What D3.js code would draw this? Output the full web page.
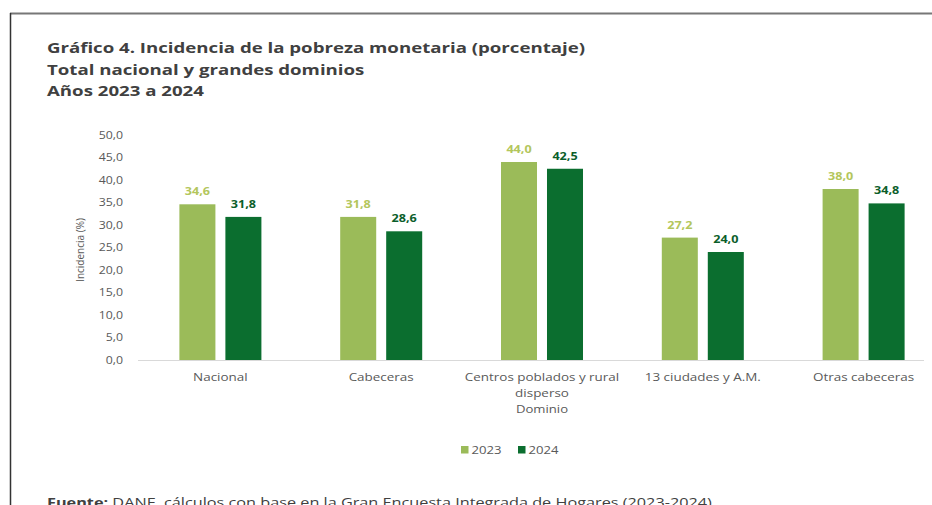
<!DOCTYPE html>
<html>
<head>
<meta charset="utf-8">
<script src="https://cdn.jsdelivr.net/npm/d3@7"></script>
<style>
  body { margin: 0; background: #fff; }
  svg { display: block; font-family: "Open Sans", "Liberation Sans", sans-serif; }
</style>
</head>
<body>
<div id="chart"></div>
<script>
// data
const categories = ["Nacional", "Cabeceras", "Centros poblados y rural disperso", "13 ciudades y A.M.", "Otras cabeceras"];
const years = ["2023", "2024"];
const values2023 = [34.6, 31.8, 44.0, 27.2, 38.0];
const values2024 = [31.8, 28.6, 42.5, 24.0, 34.8];
const yTicks = [0, 5, 10, 15, 20, 25, 30, 35, 40, 45, 50];

const titleLines = [
  "Gráfico 4. Incidencia de la pobreza monetaria (porcentaje)",
  "Total nacional y grandes dominios",
  "Años 2023 a 2024"
];

const colors = { "2023": "#9bbb59", "2024": "#0b6e2f" };
const labelColors = { "2023": "#b3c65c", "2024": "#0b5e2a" };

const width = 932, height = 505;

// the reference text is drawn a bit wider than the font, so stretch it sideways
function stretch(sel, k) {
  sel.each(function() {
    const n = this.getComputedTextLength();
    d3.select(this)
      .attr("textLength", n * k)
      .attr("lengthAdjust", "spacingAndGlyphs");
  });
}

const svg = d3.select("#chart").append("svg")
  .attr("width", width)
  .attr("height", height);

// frame of the page
svg.append("line")
  .attr("x1", 10).attr("x2", width)
  .attr("y1", 13.5).attr("y2", 13.5)
  .attr("stroke", "#777").attr("stroke-width", 2);
svg.append("line")
  .attr("x1", 10.5).attr("x2", 10.5)
  .attr("y1", 13).attr("y2", height)
  .attr("stroke", "#333").attr("stroke-width", 1.5);

// title
const titles = svg.selectAll(".title")
  .data(titleLines)
  .enter().append("text")
  .attr("class", "title")
  .attr("x", 47)
  .attr("y", function(d, i) { return 53 + i * 21.5; })
  .attr("fill", "#404040")
  .attr("font-size", 14.5)
  .attr("font-weight", "bold")
  .text(function(d) { return d; });
const titleK = 538 / titles.node().getComputedTextLength();
stretch(titles, titleK);

// scales
const x0 = d3.scaleBand()
  .domain(categories)
  .range([140, 944])
  .paddingInner(0.49)
  .paddingOuter(0.245);

const x1 = d3.scaleBand()
  .domain(years)
  .range([0, x0.bandwidth()])
  .paddingInner(0.217);

const y = d3.scaleLinear()
  .domain([0, 50])
  .range([360, 135]);

// y axis (labels only)
const yAxis = svg.append("g")
  .attr("transform", "translate(126,0)")
  .call(d3.axisLeft(y).tickValues(yTicks).tickSize(0)
    .tickFormat(function(d) { return d3.format(".1f")(d).replace(".", ","); }));
yAxis.select(".domain").remove();
yAxis.selectAll("text")
  .attr("fill", "#595959")
  .attr("font-size", 10.5)
  .attr("font-family", "'Open Sans', sans-serif");
stretch(yAxis.selectAll("text"), 1.17);

const yTitle = svg.append("text")
  .attr("transform", "translate(84,250) rotate(-90)")
  .attr("text-anchor", "middle")
  .attr("fill", "#595959")
  .attr("font-size", 10)
  .text("Incidencia (%)");

// baseline
svg.append("line")
  .attr("x1", 138).attr("x2", 924)
  .attr("y1", y(0) + 0.5).attr("y2", y(0) + 0.5)
  .attr("stroke", "#d9d9d9").attr("stroke-width", 1);

// bars
const rows = categories.map(function(c, i) {
  return { cat: c, vals: [
    { year: "2023", value: values2023[i] },
    { year: "2024", value: values2024[i] }
  ] };
});

const groups = svg.selectAll(".group")
  .data(rows)
  .enter().append("g")
  .attr("class", "group")
  .attr("transform", function(d) { return "translate(" + x0(d.cat) + ",0)"; });

groups.selectAll("rect")
  .data(function(d) { return d.vals; })
  .enter().append("rect")
  .attr("x", function(d) { return x1(d.year); })
  .attr("width", x1.bandwidth())
  .attr("y", function(d) { return y(d.value); })
  .attr("height", function(d) { return y(0) - y(d.value); })
  .attr("fill", function(d) { return colors[d.year]; });

const vals = groups.selectAll(".val")
  .data(function(d) { return d.vals; })
  .enter().append("text")
  .attr("class", "val")
  .attr("x", function(d) { return x1(d.year) + x1.bandwidth() / 2; })
  .attr("y", function(d) { return y(d.value) - 9; })
  .attr("text-anchor", "middle")
  .attr("font-size", 10.5)
  .attr("font-weight", "bold")
  .attr("fill", function(d) { return labelColors[d.year]; })
  .text(function(d) { return d3.format(".1f")(d.value).replace(".", ","); });
stretch(vals, 1.2);

// category labels, wrapped where the original wraps
const catLines = {
  "Centros poblados y rural disperso": ["Centros poblados y rural", "disperso"]
};
categories.forEach(function(c) {
  const lines = catLines[c] || [c];
  const t = svg.selectAll(null)
    .data(lines)
    .enter().append("text")
    .attr("class", "cat")
    .attr("x", x0(c) + x0.bandwidth() / 2)
    .attr("y", function(d, i) { return 381 + i * 15.5; })
    .attr("text-anchor", "middle")
    .attr("font-size", 10.5)
    .attr("fill", "#595959")
    .text(function(d) { return d; });
  stretch(t, 1.28);
});

const dom = svg.append("text")
  .attr("x", x0(categories[2]) + x0.bandwidth() / 2)
  .attr("y", 413)
  .attr("text-anchor", "middle")
  .attr("font-size", 10.5)
  .attr("fill", "#595959")
  .text("Dominio");
stretch(dom, 1.25);

// legend
const legend = svg.selectAll(".legend")
  .data(years)
  .enter().append("g")
  .attr("class", "legend")
  .attr("transform", function(d, i) { return "translate(" + (461 + i * 57) + ",446)"; });
legend.append("rect")
  .attr("width", 7.5).attr("height", 7.5)
  .attr("fill", function(d) { return colors[d]; });
const legText = legend.append("text")
  .attr("x", 10.5).attr("y", 8)
  .attr("font-size", 10.5)
  .attr("fill", "#595959")
  .text(function(d) { return d; });
stretch(legText, 1.25);

// source note (cut off by the bottom edge, as in the original)
const src = svg.append("text")
  .attr("transform", "translate(47,507) scale(1.25,1)")
  .attr("font-size", 13)
  .attr("fill", "#404040");
src.append("tspan").attr("font-weight", "bold").text("Fuente:");
src.append("tspan").text(" DANE, cálculos con base en la Gran Encuesta Integrada de Hogares (2023-2024).");
</script>
</body>
</html>
